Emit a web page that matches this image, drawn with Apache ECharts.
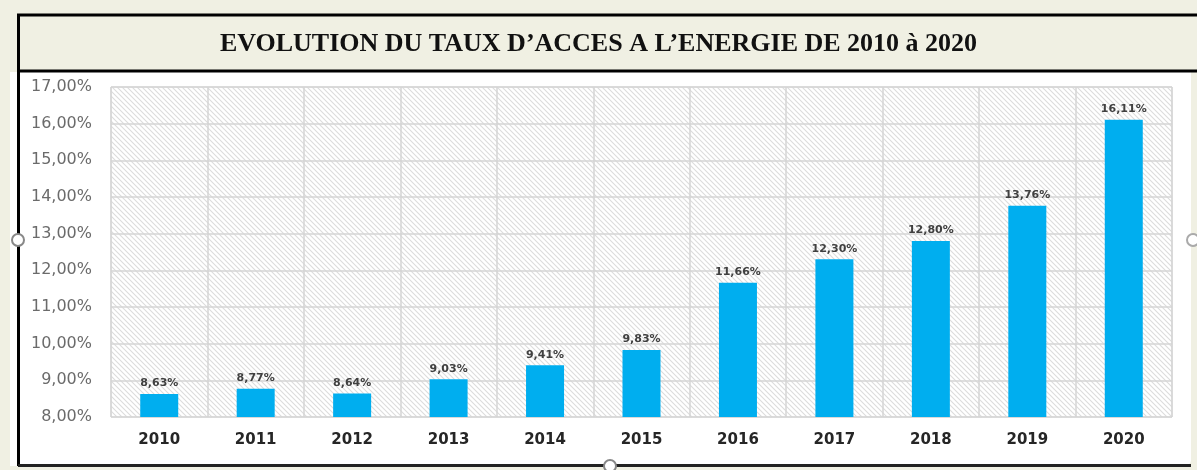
<!DOCTYPE html>
<html>
<head>
<meta charset="utf-8">
<script src="https://cdn.jsdelivr.net/npm/echarts@6/dist/echarts.min.js"></script>
<style>
  html, body { margin: 0; padding: 0; background: #f0f0e3; }
  #chart { width: 1197px; height: 470px; }
</style>
</head>
<body>
<div id="chart"></div>
<script>
const years = ['2010', '2011', '2012', '2013', '2014', '2015', '2016', '2017', '2018', '2019', '2020']
const taux = [8.63, 8.77, 8.64, 9.03, 9.41, 9.83, 11.66, 12.30, 12.80, 13.76, 16.11]
const titre = 'EVOLUTION DU TAUX D\u2019ACCES A L\u2019ENERGIE DE 2010 \u00e0 2020'

// petit motif hachuré pour le fond de la zone de tracé
function hatch () {
  const s = 5
  const c = document.createElement('canvas')
  c.width = s
  c.height = s
  const ctx = c.getContext('2d')
  ctx.fillStyle = '#ffffff'
  ctx.fillRect(0, 0, s, s)
  ctx.strokeStyle = '#dcdcdc'
  ctx.lineWidth = 1.1
  ctx.beginPath()
  ctx.moveTo(-1, -1); ctx.lineTo(s + 1, s + 1)
  ctx.moveTo(-1, s - 1); ctx.lineTo(1, s + 1)
  ctx.moveTo(s - 1, -1); ctx.lineTo(s + 1, 1)
  ctx.stroke()
  return c
}

const pct = v => v.toFixed(2).replace('.', ',') + '%'

const chart = echarts.init(document.getElementById('chart'))
chart.setOption({
  backgroundColor: '#f0f0e3',
  animation: false,
  title: {
    text: titre,
    left: 'center',
    top: 26,
    textStyle: {
      fontFamily: 'Liberation Serif',
      fontWeight: 'bold',
      fontSize: 26,
      color: '#111'
    }
  },
  graphic: [
    // panneau blanc
    { type: 'rect', z: -10, shape: { x: 10, y: 72, width: 1181, height: 394, r: [0, 0, 6, 0] }, style: { fill: '#ffffff' } },
    // cadre du titre
    { type: 'rect', z: -5, shape: { x: 18.5, y: 15, width: 1200, height: 56 }, style: { fill: '#f0f0e3', stroke: '#000', lineWidth: 3 } },
    // bordure gauche et bas
    { type: 'line', z: -5, shape: { x1: 18.5, y1: 70, x2: 18.5, y2: 466 }, style: { stroke: '#000', lineWidth: 3 } },
    { type: 'line', z: -5, shape: { x1: 18, y1: 465.5, x2: 1191, y2: 465.5 }, style: { stroke: '#222', lineWidth: 3 } },
    // poignées
    { type: 'circle', shape: { cx: 18, cy: 240, r: 6 }, style: { fill: '#fff', stroke: '#888', lineWidth: 2 } },
    { type: 'circle', shape: { cx: 610, cy: 466, r: 6 }, style: { fill: '#fff', stroke: '#888', lineWidth: 2 } },
    { type: 'circle', shape: { cx: 1193, cy: 240, r: 6 }, style: { fill: '#fff', stroke: '#aaa', lineWidth: 2 } }
  ],
  grid: {
    left: 111,
    right: 25,
    top: 87,
    bottom: 53,
    show: true,
    backgroundColor: { image: hatch(), repeat: 'repeat' },
    borderColor: '#d9d9d9',
    borderWidth: 1
  },
  xAxis: {
    type: 'category',
    data: years,
    axisLine: { show: false },
    axisTick: { show: false },
    splitLine: { show: true, lineStyle: { color: '#d4d4d4', width: 1.5 } },
    axisLabel: {
      margin: 16,
      fontFamily: 'DejaVu Sans',
      fontWeight: 'bold',
      fontSize: 15,
      color: '#262626'
    }
  },
  yAxis: {
    type: 'value',
    min: 8,
    max: 17,
    interval: 1,
    axisLine: { show: false },
    axisTick: { show: false },
    splitLine: { lineStyle: { color: '#d4d4d4', width: 1.5 } },
    axisLabel: {
      margin: 19,
      fontFamily: 'DejaVu Sans',
      fontSize: 16,
      color: '#6b6b6b',
      formatter: pct
    }
  },
  series: [{
    type: 'bar',
    data: taux,
    barWidth: 38,
    itemStyle: { color: '#00aeef' },
    label: {
      show: true,
      position: 'top',
      distance: 5,
      fontFamily: 'DejaVu Sans',
      fontWeight: 'bold',
      fontSize: 11,
      color: '#404040',
      formatter: p => pct(p.value)
    }
  }]
})
</script>
</body>
</html>
